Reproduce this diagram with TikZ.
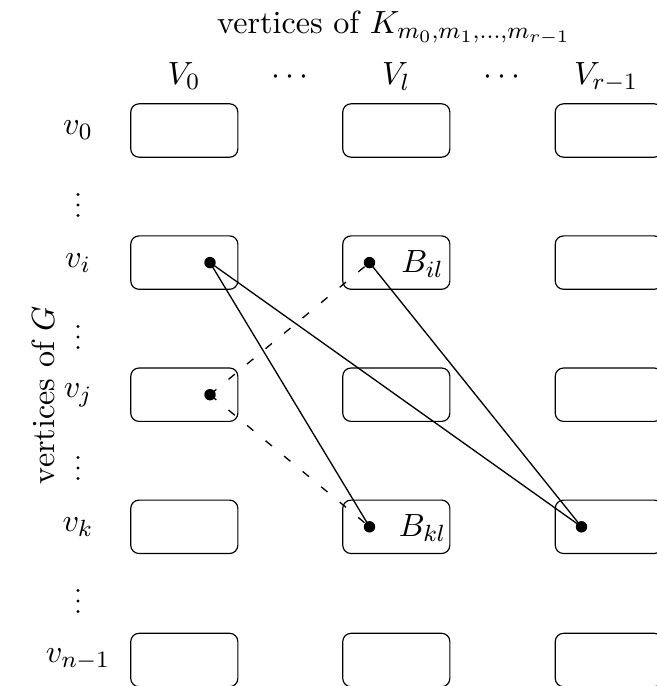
\documentclass[tikz,border=0pt]{standalone}
\begin{document}
\begin{tikzpicture}[x=0.3409pt,y=-0.3409pt,
  font=\fontsize{10.95}{13.6}\selectfont,
  part/.style={draw,rounded corners=2.8pt,minimum width=36.5pt,minimum height=18.2pt,inner sep=0pt},
  vx/.style={circle,fill,inner sep=0pt,minimum size=3.9pt},
  lbl/.style={inner sep=0pt},
  edge/.style={line width=0.45pt},
  nonedge/.style={line width=0.45pt,dash pattern=on 2.8pt off 5.4pt}]
\useasboundingbox (0,0) rectangle (657,686);

% header
\node[lbl,anchor=base] (title) at (394,34) {vertices of $K_{m_0,m_1,\dots,m_{r-1}}$};
\node[lbl,anchor=base] (c0) at (184,85) {$V_0$};
\node[lbl,anchor=base] (cd1) at (290,85) {$\cdots$};
\node[lbl,anchor=base] (cl) at (396,85) {$V_l$};
\node[lbl,anchor=base] (cd2) at (502,85) {$\cdots$};
\node[lbl,anchor=base] (cr) at (606,85) {$V_{r-1}$};

% side labels
\node[lbl,rotate=90] (side) at (43,395) {vertices of $G$};
\node[lbl] (r0) at (78,130) {$v_0$};
\node[lbl] (ri) at (78,263) {$v_i$};
\node[lbl] (rj) at (78,395) {$v_j$};
\node[lbl] (rk) at (78,527) {$v_k$};
\node[lbl] (rn) at (78,659) {$v_{n-1}$};

% vertical ellipses between the row labels
\foreach \y in {205,337,468,601}{
  \foreach \d in {-10.5,0,10.5}{
    \fill (78,\y+\d) circle[radius=0.55pt];
  }
}

% the grid of parts
\foreach \c/\x in {0/184.3,l/396.3,r/608.8}{
  \foreach \r/\y in {0/130.5,i/262.6,j/394.7,k/526.8,n/660}{
    \node[part] (b\r\c) at (\x,\y) {};
  }
}

% chosen vertices
\node[vx] (p0) at (210,262.6) {};
\node[vx] (pl) at (369.5,262.6) {};
\node[vx] (q0) at (210,394.7) {};
\node[vx] (sl) at (369.5,526.8) {};
\node[vx] (sr) at (581.5,526.8) {};
\node[lbl] (Bil) at (422.5,264) {$B_{il}$};
\node[lbl] (Bkl) at (422.5,528) {$B_{kl}$};

% edges
\draw[edge] (p0.center) -- (sl.center);
\draw[edge] (p0.center) -- (sr.center);
\draw[edge] (pl.center) -- (sr.center);
\draw[nonedge] (q0.center) -- (pl.center);
\draw[nonedge] (q0.center) -- (sl.center);
\end{tikzpicture}
\end{document}
